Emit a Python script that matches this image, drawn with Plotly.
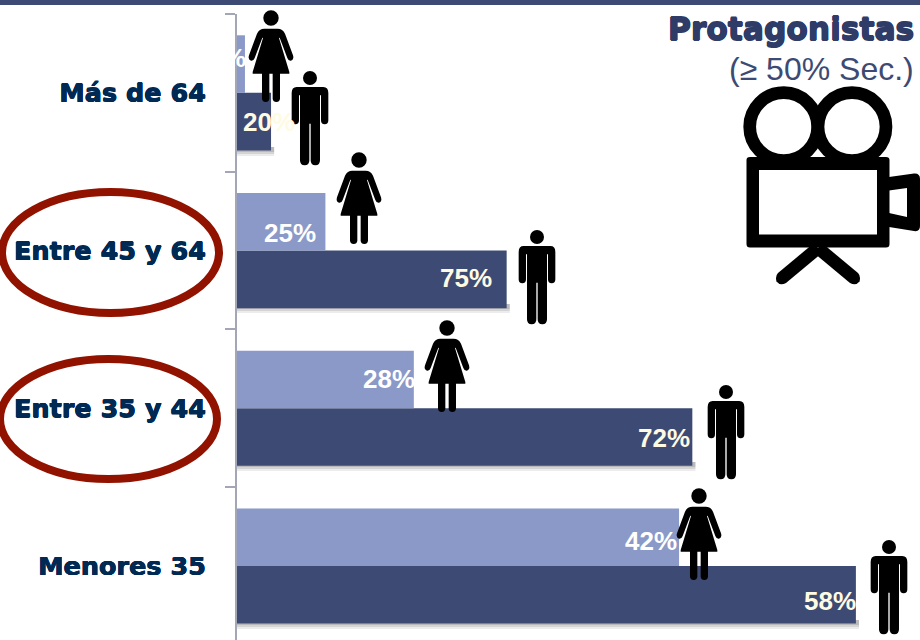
import plotly.graph_objects as go

# ---- data ----
categories = ["Menores 35", "Entre 35 y 44", "Entre 45 y 64", "Más de 64"]
women_values = [100, 40, 20, 1.8]
men_values = [140, 103, 61, 7.7]
women_labels = ["42%", "28%", "25%", "%"]
men_labels = ["58%", "72%", "75%", "20%"]
title_text = "Protagonistas"
subtitle_text = "(≥ 50% Sec.)"

# ---- style / layout ----
W, H = 920, 640
L, T = 237, 14
PW, PH = W - L, H - T
X_MAX = 154.5
LIGHT, DARK = "#8a99c8", "#3d4a73"
NAVY = "#002a54"


def px(x):
    return (x - L) / PW


def py(y):
    return 1 - (y - T) / PH


def path(cmds):
    """cmds: list of (letter, x, y, ...) in pixels -> SVG path in paper coords."""
    out = []
    for c in cmds:
        if c[0] == "Z":
            out.append("Z")
            continue
        nums = c[1:]
        pts = [f"{px(nums[i]):.5f},{py(nums[i + 1]):.5f}" for i in range(0, len(nums), 2)]
        out.append(c[0] + " ".join(pts))
    return " ".join(out)


def solid(cmds, color="black", **kw):
    return dict(type="path", xref="paper", yref="paper", path=path(cmds),
                fillcolor=color, line=dict(width=0), layer="above", **kw)


def circle(cx, cy, r, fill="black", line=None):
    return dict(type="circle", xref="paper", yref="paper",
                x0=px(cx - r), x1=px(cx + r), y0=py(cy + r), y1=py(cy - r),
                fillcolor=fill, line=line or dict(width=0), layer="above")


def scaled(cx, cy, rel, k=1 / 3):
    res = []
    for c in rel:
        if c[0] == "Z":
            res.append(c)
            continue
        n = c[1:]
        v = []
        for i in range(0, len(n), 2):
            v += [cx + n[i] * k, cy + n[i + 1] * k]
        res.append((c[0], *v))
    return res


def heavy(color, r=0.5):
    return f"{r}px 0 0 {color}, -{r}px 0 0 {color}, 0 {r}px 0 {color}, 0 -{r}px 0 {color}"


WOMAN_BODY = [("M", -20, 32), ("L", 20, 32), ("Q", 35, 32, 42, 47), ("L", 66, 112), ("Q", 70, 125, 60, 128),
              ("Q", 52, 129, 49, 120), ("L", 26, 59), ("L", 24, 60), ("L", 55, 162), ("L", 55, 167), ("L", -55, 167),
              ("L", -55, 162), ("L", -24, 60), ("L", -26, 59), ("L", -49, 120), ("Q", -52, 129, -60, 128),
              ("Q", -70, 125, -66, 112), ("L", -42, 47), ("Q", -35, 32, -20, 32), ("Z",)]
WOMAN_LEG_L = [("M", -27, 160), ("L", -5, 160), ("L", -5, 241), ("Q", -5, 252, -16, 252),
               ("Q", -27, 252, -27, 241), ("Z",)]
WOMAN_LEG_R = [("M", 5, 160), ("L", 27, 160), ("L", 27, 241), ("Q", 27, 252, 16, 252),
               ("Q", 5, 252, 5, 241), ("Z",)]
MAN_BODY = [("M", -40, 27), ("L", 40, 27), ("Q", 55, 27, 55, 45), ("L", 55, 127), ("Q", 55, 139, 44, 139),
            ("Q", 33, 139, 33, 127), ("L", 33, 52), ("L", 30, 52), ("L", 30, 247), ("Q", 30, 262, 16, 262),
            ("Q", 2, 262, 2, 247), ("L", 2, 137), ("L", -2, 137), ("L", -2, 247), ("Q", -2, 262, -16, 262),
            ("Q", -30, 262, -30, 247), ("L", -30, 52), ("L", -33, 52), ("L", -33, 127), ("Q", -33, 139, -44, 139),
            ("Q", -55, 139, -55, 127), ("L", -55, 45), ("Q", -55, 27, -40, 27), ("Z",)]

woman_heads = [(271, 18), (359, 160), (447, 328), (699, 496)]
man_heads = [(310, 78), (537, 237), (726, 392), (889, 547)]

shapes = []
# top strip
shapes.append(dict(type="rect", xref="paper", yref="paper", x0=px(0), x1=1, y0=py(5), y1=py(0),
                   fillcolor=DARK, line=dict(width=0), layer="above"))
# soft bar shadows, tied to the data
for i, v in enumerate(men_values):
    bottom = [623, 465, 307, 150][i]
    for d, a in ((6, 0.10), (4, 0.14), (2, 0.18)):
        shapes.append(dict(type="rect", xref="x", yref="paper", x0=0, x1=v + 0.7, y0=py(bottom + d), y1=py(bottom - 3),
                           fillcolor=f"rgba(70,70,70,{a})", line=dict(width=0), layer="below"))
# people
for cx, cy in woman_heads:
    shapes.append(circle(cx, cy, 7.7))
    for part in (WOMAN_BODY, WOMAN_LEG_L, WOMAN_LEG_R):
        shapes.append(solid(scaled(cx, cy, part)))
for cx, cy in man_heads:
    shapes.append(circle(cx, cy, 7))
    shapes.append(solid(scaled(cx, cy, MAN_BODY)))
# ellipses
for x0, x1, y0, y1 in ((2, 219, 192, 313), (0, 217, 359, 479)):
    shapes.append(dict(type="circle", xref="paper", yref="paper", x0=px(x0), x1=px(x1), y0=py(y1), y1=py(y0),
                       fillcolor="rgba(0,0,0,0)", line=dict(color="#921200", width=8), layer="above"))
# camera
ring = dict(color="black", width=12.7)
shapes.append(circle(783.7, 126.7, 34, fill="rgba(0,0,0,0)", line=ring))
shapes.append(circle(852, 126.7, 34, fill="rgba(0,0,0,0)", line=ring))
shapes.append(solid([("M", 750, 157), ("L", 886, 157), ("Q", 889.5, 157, 889.5, 160), ("L", 889.5, 244),
                     ("Q", 889.5, 247.5, 886, 247.5), ("L", 750, 247.5), ("Q", 746.5, 247.5, 746.5, 244),
                     ("L", 746.5, 160), ("Q", 746.5, 157, 750, 157), ("Z",),
                     ("M", 759, 170), ("L", 759, 234.5), ("L", 877, 234.5), ("L", 877, 170), ("Z",)], color="black"))
shapes.append(solid([("M", 889, 177), ("L", 914, 173.5), ("Q", 920, 173, 920, 179), ("L", 920, 226),
                     ("Q", 920, 232, 914, 231), ("L", 889, 227), ("L", 889, 213), ("L", 907, 217),
                     ("L", 907, 188), ("L", 889, 190.5), ("Z",)]))
# tripod legs
shapes.append(solid([("M", 814, 243), ("L", 822, 253), ("L", 786, 283), ("Q", 780, 286, 776.5, 281.5),
                     ("Q", 775, 276, 778, 273), ("Z",)]))
shapes.append(solid([("M", 822, 243), ("L", 814, 253), ("L", 850, 283), ("Q", 856, 286, 859.5, 281.5),
                     ("Q", 861, 276, 858, 273), ("Z",)]))

fig = go.Figure()
fig.add_bar(y=categories, x=men_values, orientation="h", marker=dict(color=DARK, line=dict(width=0)), name="Hombres")
fig.add_bar(y=categories, x=women_values, orientation="h", marker=dict(color=LIGHT, line=dict(width=0)), name="Mujeres")

annotations = []
w_shift = [(0, 25), (3, 29), (-7, 18), (3, 35)]
m_shift = [(2, -35), (0, -30), (-13, -27), (26, -29)]
for cat, val, lab, (dx, dy) in zip(categories, women_values, women_labels, w_shift):
    annotations.append(dict(x=val, y=cat, text=f"<b>{lab}</b>", showarrow=False, xanchor="right", xshift=dx, yshift=dy,
                            font=dict(family="Liberation Sans", size=26, color="white")))
for cat, val, lab, (dx, dy) in zip(categories, men_values, men_labels, m_shift):
    annotations.append(dict(x=val, y=cat, text=f"<b>{lab}</b>", showarrow=False, xanchor="right", xshift=dx, yshift=dy,
                            font=dict(family="Liberation Sans", size=26, color="#fffbe3")))
annotations.append(dict(xref="paper", yref="paper", x=px(916), y=py(29), text=f"<b>{title_text}</b>", showarrow=False,
                        xanchor="right", yanchor="middle",
                        font=dict(family="DejaVu Sans", size=31.3, color="#2f3c68", shadow=heavy("#2f3c68", 0.7))))
annotations.append(dict(xref="paper", yref="paper", x=px(916), y=py(69), text=subtitle_text, showarrow=False,
                        xanchor="right", yanchor="middle", font=dict(family="Liberation Sans", size=32, color="#3d4a73")))

fig.update_layout(
    width=W, height=H, margin=dict(l=L, r=0, t=T, b=0, autoexpand=False),
    barmode="group", bargap=0.27, bargroupgap=0, showlegend=False,
    paper_bgcolor="white", plot_bgcolor="rgba(0,0,0,0)",
    shapes=shapes, annotations=annotations,
    xaxis=dict(range=[0, X_MAX], visible=False, fixedrange=True),
    yaxis=dict(type="category", categoryorder="array", categoryarray=categories, range=[-0.469, 3.5],
               showline=True, linecolor="#a3a7b5", linewidth=2, showgrid=False, zeroline=False,
               ticks="outside", tickson="boundaries", ticklen=10, tickcolor="#a3a7b5", tickwidth=2,
               ticklabelstandoff=24,
               tickfont=dict(family="DejaVu Sans", size=25.5, color=NAVY, weight="bold", shadow=heavy(NAVY, 0.4)),
               fixedrange=True),
)
fig.write_html("out.html", config=dict(displayModeBar=False),
               post_script="document.body.style.margin='0';document.documentElement.style.overflow='hidden';")
